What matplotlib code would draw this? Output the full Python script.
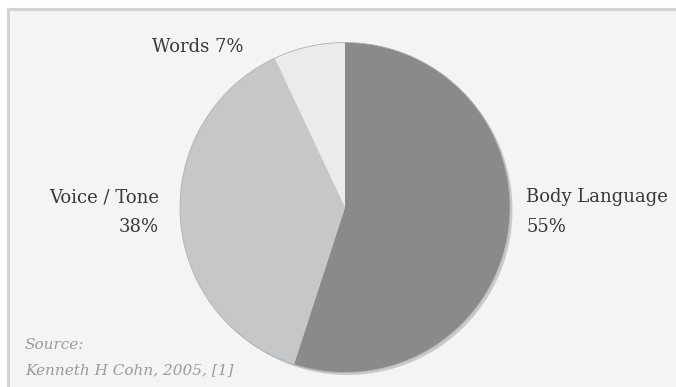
import matplotlib
matplotlib.use('Agg')
import matplotlib.pyplot as plt
from matplotlib.patches import Circle
from matplotlib.lines import Line2D

# Chart data
labels = ['Body Language', 'Voice / Tone', 'Words']
shares = [55, 38, 7]
colors = ['#8a8a8b', '#c6c7c8', '#ebebeb']
source_lines = ['Source:', 'Kenneth H Cohn, 2005, [1]']

W, H = 676, 387
bg = '#f3f4f3'
text_color = '#383838'

fig = plt.figure(figsize=(W / 100, H / 100), dpi=100)
fig.patch.set_facecolor('white')

# Axes in pixel units, y going up
ax = fig.add_axes([0, 0, 1, 1])

# Panel background plus the top and left frame lines
ax.add_patch(plt.Rectangle((8, 0), W - 8, H - 9, facecolor=bg, edgecolor='none', zorder=0))
ax.add_line(Line2D([8, W], [H - 9, H - 9], color='#d3d3d3', lw=2.2, zorder=1))
ax.add_line(Line2D([8, 8], [0, H - 9], color='#d3d3d3', lw=2.2, zorder=1))

cx, cy, r = 345, H - 207.5, 165

# Soft shadow to the lower right
ax.add_patch(Circle((cx + 2.5, cy - 2.5), r, facecolor='#c9c9c9', edgecolor='none', zorder=2))

wedges, _ = ax.pie(shares, colors=colors, startangle=90, counterclock=False,
                   radius=r, center=(cx, cy), frame=True,
                   wedgeprops=dict(linewidth=0, edgecolor='none'))
for w in wedges:
    w.set_zorder(3)
ax.add_patch(Circle((cx, cy), r, facecolor='none', edgecolor='#b0b0b0', lw=0.6, zorder=4))
ax.set_xlim(0, W)
ax.set_ylim(0, H)
ax.set_aspect('auto')
ax.axis('off')

font = dict(family='DejaVu Serif', fontsize=13, color=text_color)

# Slice labels
ax.text(526, H - 197, labels[0], ha='left', va='center', **font)
ax.text(526, H - 227, f'{shares[0]}%', ha='left', va='center', **font)
ax.text(159, H - 197, labels[1], ha='right', va='center', **font)
ax.text(159, H - 227, f'{shares[1]}%', ha='right', va='center', **font)
ax.text(244, H - 47, f'{labels[2]} {shares[2]}%', ha='right', va='center', **font)

# Source note
src = dict(family='DejaVu Serif', fontsize=11, color='#9a9a9a', style='italic')
ax.text(25, H - 345, source_lines[0], ha='left', va='center', **src)
ax.text(25, H - 370, source_lines[1], ha='left', va='center', **src)

fig.savefig('out.png', dpi=100, facecolor=fig.get_facecolor())
